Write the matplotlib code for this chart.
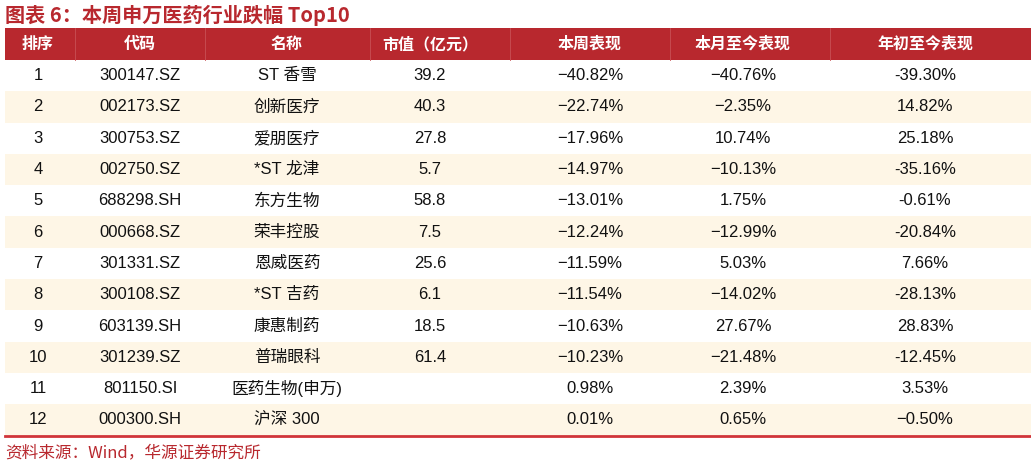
import matplotlib
matplotlib.use("Agg")
import matplotlib.pyplot as plt
from matplotlib.patches import Rectangle

plt.rcParams['font.family'] = ['Liberation Sans', 'Noto Sans CJK SC', 'DejaVu Sans']

headers = ["排序", "代码", "名称", "市值（亿元）", "本周表现", "本月至今表现", "年初至今表现"]
ranks = ["1","2","3","4","5","6","7","8","9","10","11","12"]
codes = ["300147.SZ","002173.SZ","300753.SZ","002750.SZ","688298.SH","000668.SZ",
         "301331.SZ","300108.SZ","603139.SH","301239.SZ","801150.SI","000300.SH"]
names = ["ST 香雪","创新医疗","爱朋医疗","*ST 龙津","东方生物","荣丰控股",
         "恩威医药","*ST 吉药","康惠制药","普瑞眼科","医药生物(申万)","沪深 300"]
mcap = ["39.2","40.3","27.8","5.7","58.8","7.5","25.6","6.1","18.5","61.4","",""]
week = ["−40.82%","−22.74%","−17.96%","−14.97%","−13.01%","−12.24%","−11.59%","−11.54%",
        "−10.63%","−10.23%","0.98%","0.01%"]
month = ["−40.76%","−2.35%","10.74%","−10.13%","1.75%","−12.99%","5.03%","−14.02%",
         "27.67%","−21.48%","2.39%","0.65%"]
ytd = ["-39.30%","14.82%","25.18%","-35.16%","-0.61%","-20.84%","7.66%","-28.13%",
       "28.83%","-12.45%","3.53%","−0.50%"]

col_x = [38, 140, 287, 430, 590, 743, 925]
dividers = [75, 205, 370, 510, 670, 830]
red = "#B8282E"

fig = plt.figure(figsize=(10.31, 4.69), dpi=100)
ax = fig.add_axes([0, 0, 1, 1])
ax.set_xlim(0, 1031); ax.set_ylim(469, 0); ax.axis('off')

ax.text(5, 15, "图表 6：本周申万医药行业跌幅 Top10", color=red, fontsize=14.5, fontweight='bold',
        family=['Noto Sans CJK SC'], va='center', ha='left')

top, hh = 28, 32
ax.add_patch(Rectangle((5, top), 1026, hh, color=red, lw=0))
for d in dividers:
    ax.plot([d, d], [top, top+hh], color="#c85055", lw=0.6)
for x, h in zip(col_x, headers):
    ax.text(x, top+hh/2, h, color='white', fontsize=11.5, fontweight='bold',
            family=['Noto Sans CJK SC'], ha='center', va='center')

rh = 31.3
y0 = top + hh
rows = list(zip(ranks, codes, names, mcap, week, month, ytd))
for i, r in enumerate(rows):
    yt = y0 + i*rh
    if i % 2 == 1:
        ax.add_patch(Rectangle((5, yt), 1026, rh, color="#FEF6E6", lw=0))
    for x, v in zip(col_x, r):
        ax.text(x, yt+rh/2, v, fontsize=12, ha='center', va='center', color='#111111')
yb = y0 + len(rows)*rh
ax.plot([5, 1031], [yb, yb], color="#D0343A", lw=2)

ax.text(5, 453, "资料来源：Wind，华源证券研究所", color=red, fontsize=12,
        family=['Noto Sans CJK SC'], va='center', ha='left')

fig.savefig("out.png", dpi=100)
